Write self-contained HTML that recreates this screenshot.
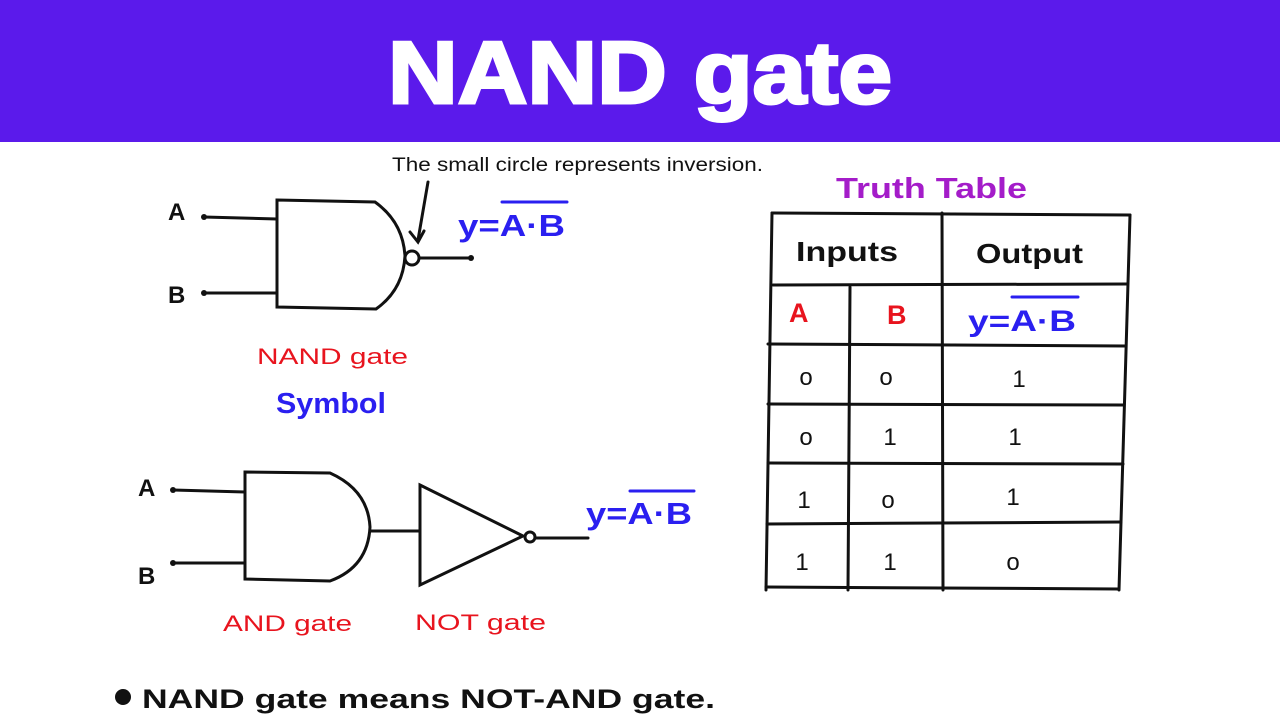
<!DOCTYPE html>
<html><head><meta charset="utf-8"><style>
body{margin:0;width:1280px;height:720px;background:#fff;overflow:hidden;font-family:"Liberation Sans",sans-serif}
svg{position:absolute;top:0;left:0}
</style></head><body>
<svg width="1280" height="720" viewBox="0 0 1280 720">
<rect x="0" y="0" width="1280" height="142" fill="#5b1aeb"/>
<text x="388" y="103" font-family="Liberation Sans" font-weight="bold" font-size="88" fill="#fff" textLength="504" lengthAdjust="spacingAndGlyphs" stroke="#fff" stroke-width="3">NAND gate</text>
<g stroke="#111" stroke-width="3" fill="none" stroke-linecap="round">
<line x1="204" y1="217" x2="277" y2="219"/>
<line x1="204" y1="293" x2="277" y2="293"/>
<path d="M277 200 L375 202 Q403 222 405 256 Q403 290 376 309 L277 307 Z"/>
<circle cx="412" cy="258" r="7"/>
<line x1="419" y1="258" x2="471" y2="258"/>
<line x1="428" y1="182" x2="418" y2="240"/>
<path d="M410 232 L418 242 L424 231"/>
<line x1="173" y1="490" x2="245" y2="492"/>
<line x1="173" y1="563" x2="245" y2="563"/>
<path d="M245 472 L330 473 Q368 490 370 527 Q368 567 330 581 L245 579 Z"/>
<line x1="370" y1="531" x2="420" y2="531"/>
<path d="M420 485 L523 536 L420 585 Z"/>
<circle cx="530" cy="537" r="5"/>
<line x1="535" y1="538" x2="588" y2="538"/>
<line x1="772" y1="213" x2="1130" y2="215"/>
<line x1="772" y1="213" x2="766" y2="590"/>
<line x1="942" y1="213" x2="943" y2="590"/>
<line x1="1130" y1="215" x2="1119" y2="590"/>
<line x1="773" y1="285" x2="1127" y2="284"/>
<line x1="850" y1="287" x2="848" y2="590"/>
<line x1="768" y1="344" x2="1126" y2="346"/>
<line x1="768" y1="404" x2="1124" y2="405"/>
<line x1="768" y1="463" x2="1123" y2="464"/>
<line x1="767" y1="524" x2="1121" y2="522"/>
<line x1="766" y1="587" x2="1119" y2="589"/>
<line x1="502" y1="202" x2="567" y2="202" stroke="#2a1ff0"/>
<line x1="1012" y1="297" x2="1078" y2="297" stroke="#2a1ff0"/>
<line x1="630" y1="491" x2="694" y2="491" stroke="#2a1ff0"/>
</g>
<g fill="#111" stroke="none">
<circle cx="204" cy="217" r="3"/><circle cx="204" cy="293" r="3"/><circle cx="471" cy="258" r="3"/>
<circle cx="173" cy="490" r="3"/><circle cx="173" cy="563" r="3"/>
<circle cx="123" cy="697" r="8"/>
</g>
<g font-family="Liberation Sans" font-weight="bold">
<text x="168" y="220" font-size="24" fill="#111">A</text>
<text x="168" y="303" font-size="24" fill="#111">B</text>
<text x="138" y="496" font-size="24" fill="#111">A</text>
<text x="138" y="584" font-size="24" fill="#111">B</text>
<text x="458" y="236" font-size="31" fill="#2a1ff0" textLength="107" lengthAdjust="spacingAndGlyphs">y=A·B</text>
<text x="586" y="524" font-size="31" fill="#2a1ff0" textLength="106" lengthAdjust="spacingAndGlyphs">y=A·B</text>
<text x="257" y="364" font-size="22" font-weight="normal" fill="#e8141e" textLength="151" lengthAdjust="spacingAndGlyphs">NAND gate</text>
<text x="276" y="413" font-size="29" fill="#2a1ff0" textLength="110" lengthAdjust="spacingAndGlyphs">Symbol</text>
<text x="223" y="631" font-size="22" font-weight="normal" fill="#e8141e" textLength="129" lengthAdjust="spacingAndGlyphs">AND gate</text>
<text x="415" y="630" font-size="22" font-weight="normal" fill="#e8141e" textLength="131" lengthAdjust="spacingAndGlyphs">NOT gate</text>
<text x="836" y="198" font-size="29" fill="#a41cc9" textLength="191" lengthAdjust="spacingAndGlyphs">Truth Table</text>
<text x="796" y="261" font-size="28" fill="#111" textLength="102" lengthAdjust="spacingAndGlyphs">Inputs</text>
<text x="976" y="263" font-size="28" fill="#111" textLength="107" lengthAdjust="spacingAndGlyphs">Output</text>
<text x="789" y="322" font-size="27" fill="#e8141e">A</text>
<text x="887" y="324" font-size="27" fill="#e8141e">B</text>
<text x="968" y="331" font-size="30" fill="#2a1ff0" textLength="108" lengthAdjust="spacingAndGlyphs">y=A·B</text>
<text x="142" y="708" font-size="27" fill="#111" textLength="573" lengthAdjust="spacingAndGlyphs">NAND gate means NOT-AND gate.</text>
</g>
<text x="392" y="171" font-size="19" fill="#111" textLength="371" lengthAdjust="spacingAndGlyphs">The small circle represents inversion.</text>
<g font-size="24" fill="#111" text-anchor="middle">
<text x="806" y="385">o</text><text x="886" y="385">o</text><text x="1019" y="387">1</text>
<text x="806" y="445">o</text><text x="890" y="445">1</text><text x="1015" y="445">1</text>
<text x="804" y="508">1</text><text x="888" y="508">o</text><text x="1013" y="505">1</text>
<text x="802" y="570">1</text><text x="890" y="570">1</text><text x="1013" y="570">o</text>
</g>
</svg>
</body></html>
